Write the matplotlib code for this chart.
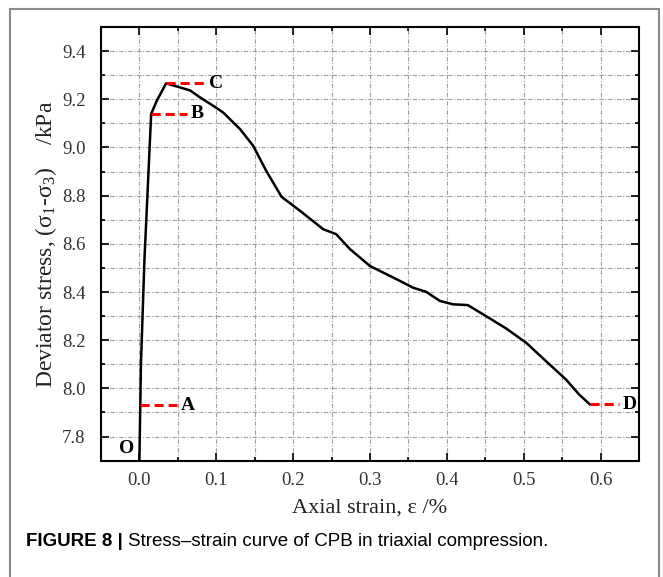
import matplotlib.pyplot as plt
import matplotlib.patches as patches
from matplotlib.ticker import MultipleLocator

# stress-strain curve
strain = [0.000, 0.002, 0.0065, 0.0153, 0.0226, 0.0347, 0.0500, 0.0658, 0.0788,
          0.096, 0.109, 0.131, 0.148, 0.165, 0.185, 0.209, 0.239, 0.256, 0.274,
          0.300, 0.339, 0.356, 0.373, 0.391, 0.408, 0.427, 0.451, 0.477, 0.503,
          0.529, 0.555, 0.572, 0.586]
stress = [7.70, 8.10, 8.53, 9.139, 9.194, 9.266, 9.252, 9.237, 9.208,
          9.173, 9.145, 9.076, 9.007, 8.903, 8.795, 8.737, 8.661, 8.640, 8.578,
          8.508, 8.446, 8.418, 8.401, 8.363, 8.349, 8.346, 8.300, 8.249, 8.190,
          8.113, 8.037, 7.975, 7.934]

# feature points: name, point on curve, end of red dash
point_names = ['A', 'B', 'C', 'D']
point_x = [0.001, 0.0153, 0.0347, 0.586]
point_y = [7.93, 9.139, 9.266, 7.934]
dash_end = [0.049, 0.0616, 0.085, 0.624]

serif = ['Liberation Serif', 'DejaVu Serif']
sans = ['Liberation Sans', 'DejaVu Sans']
plt.rcParams['mathtext.fontset'] = 'custom'
plt.rcParams['mathtext.rm'] = 'Liberation Serif'
plt.rcParams['mathtext.it'] = 'Liberation Serif:italic'

fig = plt.figure(figsize=(6.63, 5.77), dpi=100)
ax = fig.add_axes([0.1523, 0.2016, 0.8115, 0.7516])

ax.plot(strain, stress, color='black', lw=1.8, zorder=3)

for name, x0, y0, x1 in zip(point_names, point_x, point_y, dash_end):
    ax.plot([x0, x1], [y0, y0], color='red', lw=2.2, ls=(0, (3, 1.6)), zorder=4)
    ax.text(x1 + 0.005, y0, name, fontsize=14, fontweight='bold', family=serif,
            va='center', ha='left', zorder=5)
ax.text(-0.016, 7.75, 'O', fontsize=14, fontweight='bold', family=serif,
        va='center', ha='center')

ax.set_xlim(-0.05, 0.65)
ax.set_ylim(7.7, 9.5)
ax.xaxis.set_minor_locator(MultipleLocator(0.05))
ax.yaxis.set_minor_locator(MultipleLocator(0.1))
ax.set_xticks([0.0, 0.1, 0.2, 0.3, 0.4, 0.5, 0.6])
ax.set_yticks([7.8, 8.0, 8.2, 8.4, 8.6, 8.8, 9.0, 9.2, 9.4])

ax.tick_params(which='both', direction='in', top=True, right=True, width=1.2)
ax.tick_params(which='major', length=6)
ax.tick_params(which='minor', length=3)
ax.tick_params(axis='x', which='major', pad=8)
ax.tick_params(axis='y', which='major', pad=11)
for lab in ax.get_xticklabels() + ax.get_yticklabels():
    lab.set_family(serif)
    lab.set_fontsize(13.5)
    lab.set_color('#333333')

ax.grid(which='both', color='#a0a0a0', lw=0.8, ls=(0, (4, 1.5, 1, 1.5)))
ax.set_axisbelow(True)
for sp in ax.spines.values():
    sp.set_linewidth(1.5)

ax.set_xlabel('Axial strain, ε /%', family=serif, fontsize=16, labelpad=7, color='#222222')
ax.set_ylabel(r'Deviator stress, ($\mathrm{σ}_1$-$\mathrm{σ}_3$)    /kPa', family=serif,
              fontsize=17, labelpad=2, color='#222222')

# outer frame around figure panel
fig.patches.append(patches.Rectangle((10 / 663, -0.05), 649 / 663, 1 - 9 / 577 + 0.05,
                                     transform=fig.transFigure, fill=False,
                                     edgecolor='#8a8a8a', lw=1.5))

cap_y = 1 - 541 / 577
t1 = fig.text(26 / 663, cap_y, 'FIGURE 8 | ', family=sans, fontsize=13.5,
              fontweight='bold', va='center', ha='left')
fig.canvas.draw()
bb = t1.get_window_extent(fig.canvas.get_renderer())
fig.text(bb.x1 / fig.bbox.width, cap_y, 'Stress–strain curve of CPB in triaxial compression.',
         family=sans, fontsize=13.5, va='center', ha='left')

fig.savefig('out.png', dpi=100)
